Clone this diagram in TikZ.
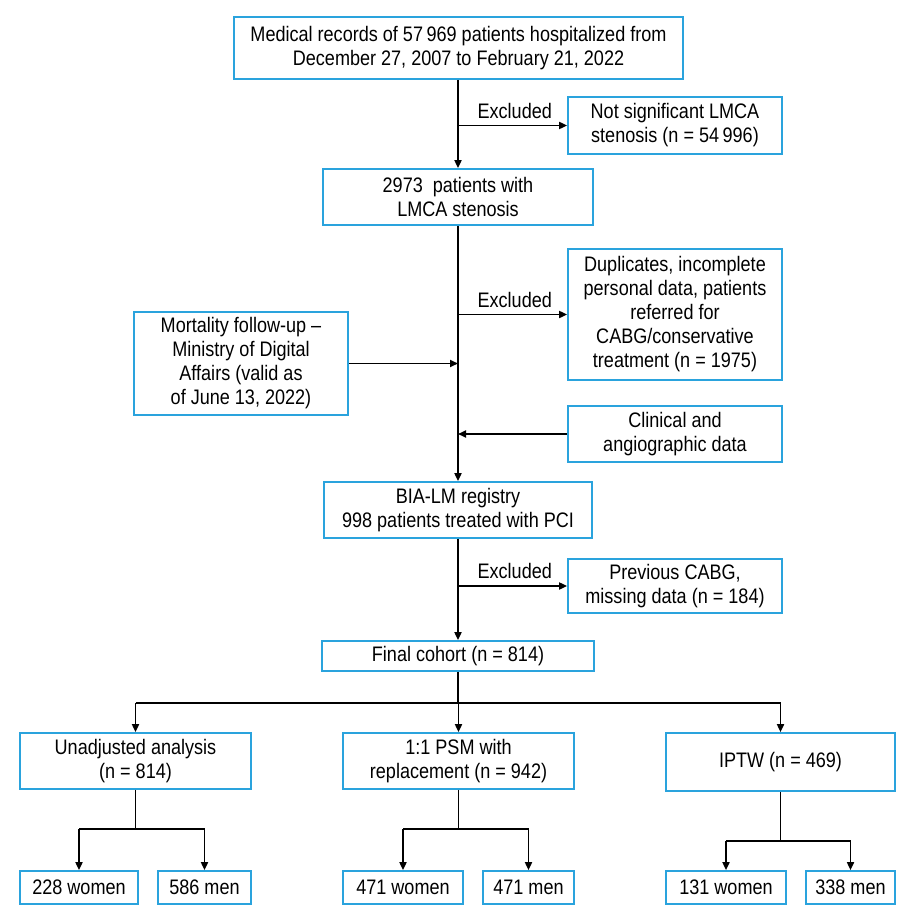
\documentclass[tikz,border=0pt]{standalone}
\usepackage{fontspec}
\setmainfont{Liberation Sans}[FakeStretch=0.86]
\usetikzlibrary{arrows.meta}
\definecolor{boxblue}{HTML}{2AA3DD}
\newcommand{\eqsp}{\ =\ }
\begin{document}
\begin{tikzpicture}[x=1pt,y=-1pt,
  box/.style={draw=boxblue, line width=1.7pt, fill=white, inner sep=0pt, align=center,
    font=\fontsize{21}{24}\selectfont},
  arr/.style={line width=1.7pt, -{Triangle[length=8pt,width=7pt]}},
  ln/.style={line width=1.7pt},
  lbl/.style={font=\fontsize{21}{24}\selectfont, anchor=south, inner sep=0pt, yshift=6pt}]
\useasboundingbox (0,0) rectangle (916,920);
\fill[white] (0,0) rectangle (916,920);

\node[box, minimum width=449pt, minimum height=62pt] (top) at (458.5,48)
  {Medical records of 57\,969 patients hospitalized from\\December 27, 2007 to February 21, 2022};
\node[box, minimum width=214pt, minimum height=57pt] (ns) at (675,125.5)
  {Not significant LMCA\\stenosis (n\eqsp 54\,996)};
\node[box, minimum width=270pt, minimum height=56pt] (b2) at (458,197)
  {2973 \ patients with\\LMCA stenosis};
\node[box, minimum width=214pt, minimum height=131pt] (dup) at (675,314.5)
  {Duplicates, incomplete\\personal data, patients\\referred for\\CABG/conservative\\treatment (n\eqsp 1975)};
\node[box, minimum width=214pt, minimum height=103pt] (mort) at (241,363.5)
  {Mortality follow-up --\\Ministry of Digital\\Affairs (valid as\\of June 13, 2022)};
\node[box, minimum width=214pt, minimum height=56pt] (clin) at (675,434)
  {Clinical and\\angiographic data};
\node[box, minimum width=268pt, minimum height=56pt] (bia) at (458,510)
  {BIA-LM registry\\998 patients treated with PCI};
\node[box, minimum width=214pt, minimum height=54pt] (prev) at (675,586)
  {Previous CABG,\\missing data (n\eqsp 184)};
\node[box, minimum width=272pt, minimum height=30pt] (fin) at (458,656)
  {Final cohort (n\eqsp 814)};

\node[box, minimum width=231pt, minimum height=56pt] (un) at (135.5,761)
  {Unadjusted analysis\\(n\eqsp 814)};
\node[box, minimum width=231pt, minimum height=56pt] (psm) at (458.5,761)
  {1:1 PSM with\\replacement (n\eqsp 942)};
\node[box, minimum width=229pt, minimum height=58pt] (ip) at (780.5,762)
  {IPTW (n\eqsp 469)};

\node[box, minimum width=118pt, minimum height=33pt] (w1) at (79,887.5) {228 women};
\node[box, minimum width=93pt, minimum height=33pt] (m1) at (204.5,887.5) {586 men};
\node[box, minimum width=120pt, minimum height=33pt] (w2) at (403,887.5) {471 women};
\node[box, minimum width=91pt, minimum height=33pt] (m2) at (528.5,887.5) {471 men};
\node[box, minimum width=120pt, minimum height=33pt] (w3) at (726,887.5) {131 women};
\node[box, minimum width=89pt, minimum height=33pt] (m3) at (850.5,887.5) {338 men};

% main spine
\draw[arr] (b2.north |- top.south) -- (b2.north);
\draw[arr] (b2.north |- ns.west) -- (ns.west) node[lbl, pos=0.52] {Excluded};
\draw[arr] (b2.south) -- (bia.north);
\draw[arr] (b2.south |- dup.west) -- (dup.west) node[lbl, pos=0.52] {Excluded};
\draw[arr] (mort.east) -- (mort.east -| b2.south);
\draw[arr] (clin.west) -- (clin.west -| b2.south);
\draw[arr] (bia.south) -- (fin.north);
\draw[arr] (bia.south |- prev.west) -- (prev.west) node[lbl, pos=0.52] {Excluded};

% split into three analyses
\coordinate (s0) at (458,703);
\draw[ln] (fin.south) -- (fin.south |- s0);
\draw[ln] (un.north |- s0) -- (ip.north |- s0);
\draw[arr] (un.north |- s0) -- (un.north);
\draw[arr] (psm.north |- s0) -- (psm.north);
\draw[arr] (ip.north |- s0) -- (ip.north);

% sub-splits
\coordinate (s1) at (0,829);
\coordinate (s3) at (0,841);
\draw[ln] (un.south) -- (un.south |- s1);
\draw[ln] (w1.north |- s1) -- (m1.north |- s1);
\draw[arr] (w1.north |- s1) -- (w1.north);
\draw[arr] (m1.north |- s1) -- (m1.north);
\draw[ln] (psm.south) -- (psm.south |- s1);
\draw[ln] (w2.north |- s1) -- (m2.north |- s1);
\draw[arr] (w2.north |- s1) -- (w2.north);
\draw[arr] (m2.north |- s1) -- (m2.north);
\draw[ln] (ip.south) -- (ip.south |- s3);
\draw[ln] (w3.north |- s3) -- (m3.north |- s3);
\draw[arr] (w3.north |- s3) -- (w3.north);
\draw[arr] (m3.north |- s3) -- (m3.north);
\end{tikzpicture}
\end{document}
